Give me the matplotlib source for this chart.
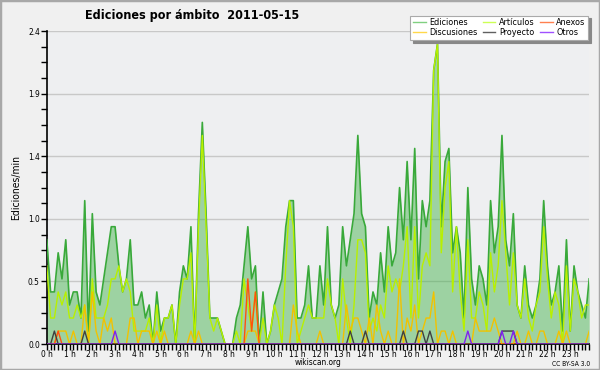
import matplotlib
matplotlib.use("Agg")
import matplotlib.pyplot as plt
from matplotlib.lines import Line2D
from matplotlib.patches import Rectangle
from matplotlib.ticker import FixedLocator, MultipleLocator

# edits per minute, one value per 10 minutes (6 per hour, 0h .. 23h50)
ediciones = [
    0.8, 0.4, 0.4, 0.7, 0.5, 0.8,
    0.3, 0.4, 0.4, 0.2, 1.1, 0.1,
    1.0, 0.4, 0.3, 0.5, 0.7, 0.9,
    0.9, 0.6, 0.4, 0.5, 0.8, 0.3,
    0.3, 0.4, 0.2, 0.3, 0.0, 0.4,
    0.1, 0.2, 0.2, 0.3, 0.0, 0.4,
    0.6, 0.5, 0.9, 0.0, 1.0, 1.7,
    1.0, 0.2, 0.2, 0.2, 0.1, 0.0,
    0.0, 0.0, 0.2, 0.3, 0.6, 0.9,
    0.5, 0.6, 0.0, 0.4, 0.0, 0.1,
    0.3, 0.4, 0.5, 0.9, 1.1, 1.1,
    0.2, 0.2, 0.3, 0.6, 0.2, 0.2,
    0.6, 0.3, 0.9, 0.3, 0.2, 0.3,
    0.9, 0.6, 0.8, 1.0, 1.6, 1.0,
    0.9, 0.2, 0.4, 0.3, 0.7, 0.4,
    0.9, 0.6, 0.7, 1.2, 0.8, 1.4,
    0.8, 1.5, 0.5, 1.1, 0.9, 1.1,
    2.1, 2.3, 0.9, 1.4, 1.5, 0.7,
    0.9, 0.7, 0.2, 1.2, 0.5, 0.3,
    0.6, 0.5, 0.3, 1.1, 0.7, 0.9,
    1.6, 0.8, 0.6, 1.0, 0.3, 0.2,
    0.6, 0.3, 0.2, 0.3, 0.5, 1.1,
    0.6, 0.3, 0.4, 0.6, 0.1, 0.8,
    0.1, 0.6, 0.4, 0.3, 0.2, 0.5,
]
articulos = [
    0.6, 0.2, 0.2, 0.4, 0.3, 0.4,
    0.2, 0.2, 0.3, 0.2, 0.3, 0.0,
    0.5, 0.2, 0.2, 0.2, 0.3, 0.5,
    0.5, 0.6, 0.4, 0.5, 0.4, 0.1,
    0.1, 0.1, 0.1, 0.2, 0.0, 0.3,
    0.0, 0.2, 0.2, 0.3, 0.0, 0.3,
    0.5, 0.5, 0.7, 0.0, 0.9, 1.6,
    0.9, 0.2, 0.1, 0.2, 0.1, 0.0,
    0.0, 0.0, 0.1, 0.0, 0.5, 0.3,
    0.1, 0.4, 0.0, 0.2, 0.0, 0.1,
    0.3, 0.2, 0.0, 0.6, 1.1, 0.9,
    0.0, 0.1, 0.2, 0.3, 0.2, 0.2,
    0.2, 0.2, 0.5, 0.3, 0.2, 0.0,
    0.5, 0.2, 0.0, 0.3, 0.8, 0.8,
    0.7, 0.1, 0.2, 0.1, 0.3, 0.2,
    0.6, 0.4, 0.5, 0.4, 0.6, 0.9,
    0.2, 0.9, 0.2, 0.6, 0.7, 0.6,
    2.1, 2.3, 0.7, 1.2, 1.4, 0.4,
    0.9, 0.4, 0.1, 0.8, 0.2, 0.2,
    0.4, 0.3, 0.1, 0.7, 0.4, 0.6,
    1.1, 0.7, 0.3, 0.7, 0.3, 0.2,
    0.5, 0.2, 0.1, 0.3, 0.4, 0.9,
    0.5, 0.2, 0.4, 0.3, 0.0, 0.6,
    0.1, 0.5, 0.4, 0.2, 0.3, 0.3,
]
discusiones = [
    0.0, 0.0, 0.0, 0.1, 0.1, 0.1,
    0.0, 0.1, 0.0, 0.0, 0.3, 0.0,
    0.4, 0.1, 0.0, 0.2, 0.1, 0.2,
    0.0, 0.0, 0.0, 0.0, 0.2, 0.2,
    0.0, 0.1, 0.1, 0.1, 0.0, 0.1,
    0.0, 0.1, 0.0, 0.0, 0.0, 0.0,
    0.0, 0.0, 0.1, 0.0, 0.1, 0.0,
    0.0, 0.0, 0.0, 0.0, 0.0, 0.0,
    0.0, 0.0, 0.0, 0.0, 0.0, 0.1,
    0.1, 0.1, 0.0, 0.0, 0.0, 0.0,
    0.0, 0.0, 0.0, 0.0, 0.0, 0.3,
    0.1, 0.0, 0.0, 0.0, 0.0, 0.0,
    0.1, 0.0, 0.0, 0.0, 0.0, 0.0,
    0.0, 0.3, 0.1, 0.2, 0.2, 0.1,
    0.0, 0.2, 0.0, 0.3, 0.1, 0.0,
    0.1, 0.0, 0.0, 0.5, 0.0, 0.2,
    0.1, 0.3, 0.0, 0.1, 0.2, 0.2,
    0.4, 0.0, 0.1, 0.1, 0.0, 0.1,
    0.0, 0.0, 0.0, 0.0, 0.0, 0.2,
    0.1, 0.1, 0.1, 0.1, 0.2, 0.1,
    0.0, 0.0, 0.0, 0.0, 0.1, 0.0,
    0.0, 0.1, 0.0, 0.0, 0.1, 0.1,
    0.0, 0.0, 0.0, 0.1, 0.0, 0.1,
    0.0, 0.0, 0.0, 0.0, 0.0, 0.1,
]
# sparse series: slot index -> value
anexos_pts = {3: 0.1, 53: 0.5, 54: 0.1, 55: 0.4}
proyecto_pts = {2: 0.1, 10: 0.1, 80: 0.1, 84: 0.1, 94: 0.1, 98: 0.1, 99: 0.1,
                101: 0.1, 120: 0.1, 121: 0.1, 122: 0.1, 123: 0.1}
otros_pts = {18: 0.1, 111: 0.1, 120: 0.1, 123: 0.1}

n = len(ediciones)
anexos = [anexos_pts.get(i, 0.0) for i in range(n)]
proyecto = [proyecto_pts.get(i, 0.0) for i in range(n)]
otros = [otros_pts.get(i, 0.0) for i in range(n)]
hours = [i / 6 for i in range(n)]
hour_labels = [f"{h} h" for h in range(24)]

plt.rcParams["font.family"] = "DejaVu Sans"
plt.rcParams["font.stretch"] = "condensed"

fig = plt.figure(figsize=(6, 3.7), dpi=100, facecolor="#f0f0f0")
fig.patches.append(Rectangle((0, 0), 1, 1, transform=fig.transFigure,
                             fill=False, edgecolor="#a8a8a8", lw=2.5))
ax = fig.add_axes([0.078, 0.070, 0.904, 0.846])
ax.set_facecolor("#eeeff1")

ax.fill_between(hours, ediciones, 0, color="#3cb043", alpha=0.45, lw=0, zorder=2)
ax.plot(hours, ediciones, color="#39a93a", lw=1.2, zorder=3)
ax.plot(hours, articulos, color="#b8f000", lw=1.0, zorder=4)
ax.plot(hours, discusiones, color="#f2c200", lw=1.0, zorder=5)
ax.plot(hours, anexos, color="#ff5010", lw=1.0, zorder=6)
ax.plot(hours, proyecto, color="#404040", lw=1.0, zorder=6)
ax.plot(hours, otros, color="#8020f0", lw=1.0, zorder=7)

ax.set_xlim(0, hours[-1])
ax.set_ylim(0, 2.4)
ax.yaxis.set_major_locator(FixedLocator([0, 0.48, 0.96, 1.44, 1.92, 2.4]))
ax.yaxis.set_minor_locator(MultipleLocator(0.12))
ax.set_yticklabels(["0.0", "0.5", "1.0", "1.4", "1.9", "2.4"])
ax.set_xticks(range(24))
ax.set_xticklabels(hour_labels)
ax.xaxis.set_minor_locator(MultipleLocator(1 / 6))
ax.tick_params(axis="both", which="both", direction="out", length=4, width=1,
               labelsize=6, pad=1, colors="black")
ax.tick_params(axis="x", which="major", pad=0)
ax.grid(axis="y", which="major", color="#c8c8c8", lw=1, zorder=1)
ax.set_axisbelow(True)
for s in ("top", "right"):
    ax.spines[s].set_visible(False)
for s in ("left", "bottom"):
    ax.spines[s].set_linewidth(1.2)
ax.set_ylabel("Ediciones/min", fontsize=7.5, labelpad=5)

fig.text(0.142, 0.957, "Ediciones por ámbito  2011-05-15", fontsize=9,
         fontweight="bold", va="center", ha="left")
fig.text(0.53, 0.009, "wikiscan.org", fontsize=6, ha="center", va="bottom")
fig.text(0.983, 0.009, "CC BY-SA 3.0", fontsize=4.8, ha="right", va="bottom")

handles = [
    Line2D([], [], color="#80d080", lw=1),
    Line2D([], [], color="#ffd84a", lw=1),
    Line2D([], [], color="#ccff55", lw=1),
    Line2D([], [], color="#606060", lw=1),
    Line2D([], [], color="#ff8050", lw=1),
    Line2D([], [], color="#a050ff", lw=1),
]
labels = ["Ediciones", "Discusiones", "Artículos", "Proyecto", "Anexos", "Otros"]
leg = fig.legend(handles, labels, ncol=3, loc="upper right",
                 bbox_to_anchor=(0.988, 0.97), fontsize=6.5, frameon=True,
                 fancybox=False, shadow={"color": "#888888", "alpha": 1},
                 framealpha=1, edgecolor="#aaaaaa",
                 handlelength=1.4, handletextpad=0.4, columnspacing=0.6,
                 labelspacing=0.1, borderpad=0.3)
leg.get_frame().set_linewidth(0.8)

fig.savefig("out.png", dpi=100, facecolor=fig.get_facecolor())
